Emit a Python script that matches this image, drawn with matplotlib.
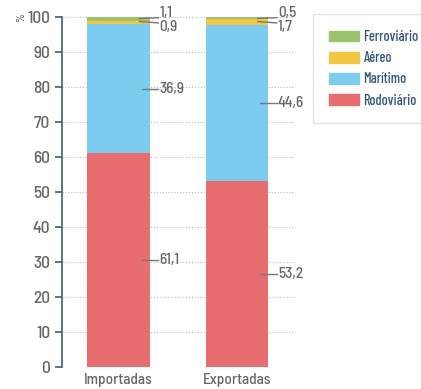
import matplotlib.pyplot as plt
from matplotlib.patches import Patch

categorias = ["Importadas", "Exportadas"]
rodoviario = [61.1, 53.2]
maritimo = [36.9, 44.6]
aereo = [0.9, 1.7]
ferroviario = [1.1, 0.5]

series = [
    ("Rodoviário", rodoviario, "#e86d6e"),
    ("Marítimo", maritimo, "#7ecbf0"),
    ("Aéreo", aereo, "#f2c745"),
    ("Ferroviário", ferroviario, "#9cc46b"),
]

plt.rcParams["font.family"] = ["Barlow Semi Condensed", "DejaVu Sans"]
plt.rcParams["font.weight"] = 500
GRAY = "#666666"
SPINE = "#3f5f70"

fig = plt.figure(figsize=(4.21, 3.89), dpi=100)
ax = fig.add_axes([0.147, 0.0566, 0.554, 0.8997])

x = range(len(categorias))
width = 0.53
bottom = [0, 0]
for nome, vals, cor in series:
    ax.bar(x, vals, width, bottom=bottom, color=cor, zorder=2)
    bottom = [b + v for b, v in zip(bottom, vals)]


def fmt(v):
    return f"{v:.1f}".replace(".", ",")


# etiquetas com linhas de chamada
for i in x:
    r, m, a, f = rodoviario[i], maritimo[i], aereo[i], ferroviario[i]
    x0 = i + width / 2 - 0.07
    x1 = i + width / 2 + 0.07
    for yv, val in [(r / 2, r), (r + m / 2, m)]:
        ax.plot([x0, x1], [yv, yv], color="#777777", lw=1, zorder=3)
        ax.text(x1 + 0.01, yv, fmt(val), va="center", ha="left",
                fontsize=11, color=GRAY)
    ax.plot([x0 - 0.02, x1], [99.6, 99.8], color="#777777", lw=1, zorder=3)
    ax.plot([x0 - 0.02, x1], [98.7, 98.3], color="#777777", lw=1, zorder=3)
    ax.text(x1 + 0.01, 101.2, fmt(f), va="center", ha="left",
            fontsize=11, color=GRAY)
    ax.text(x1 + 0.01, 97.2, fmt(a), va="center", ha="left",
            fontsize=11, color=GRAY)

ax.set_xlim(-0.48, 1.49)
ax.set_ylim(0, 100)
ax.set_yticks(range(0, 101, 10))
ax.set_xticks(list(x))
ax.set_xticklabels(categorias)
ax.tick_params(axis="y", colors=SPINE, labelcolor=GRAY, labelsize=12.5, length=5, width=1.2)
ax.tick_params(axis="x", length=0, labelcolor=GRAY, labelsize=11, pad=4)
ax.grid(axis="y", linestyle=":", color="#bbbbbb", lw=0.8, zorder=0)
for s in ["top", "right", "bottom"]:
    ax.spines[s].set_visible(False)
ax.spines["left"].set_color(SPINE)
ax.spines["left"].set_linewidth(1.2)

fig.text(0.05, 0.955, "%", rotation=90, ha="center", va="center", fontsize=8, color=GRAY)

handles = [Patch(color=c, label=n) for n, _, c in series[::-1]]
leg = fig.legend(handles=handles, loc="upper left", bbox_to_anchor=(0.743, 0.963),
                 borderaxespad=0, frameon=True,
                 prop={"family": ["Barlow Condensed", "DejaVu Sans"], "weight": 500, "size": 10.3},
                 handlelength=2.1, handleheight=0.75, handletextpad=0.35,
                 labelspacing=0.5, borderpad=1.1, fancybox=False)
leg.get_frame().set_edgecolor("#dddddd")
for t in leg.get_texts():
    t.set_color("#35577a")

fig.savefig("out.png", dpi=100)
